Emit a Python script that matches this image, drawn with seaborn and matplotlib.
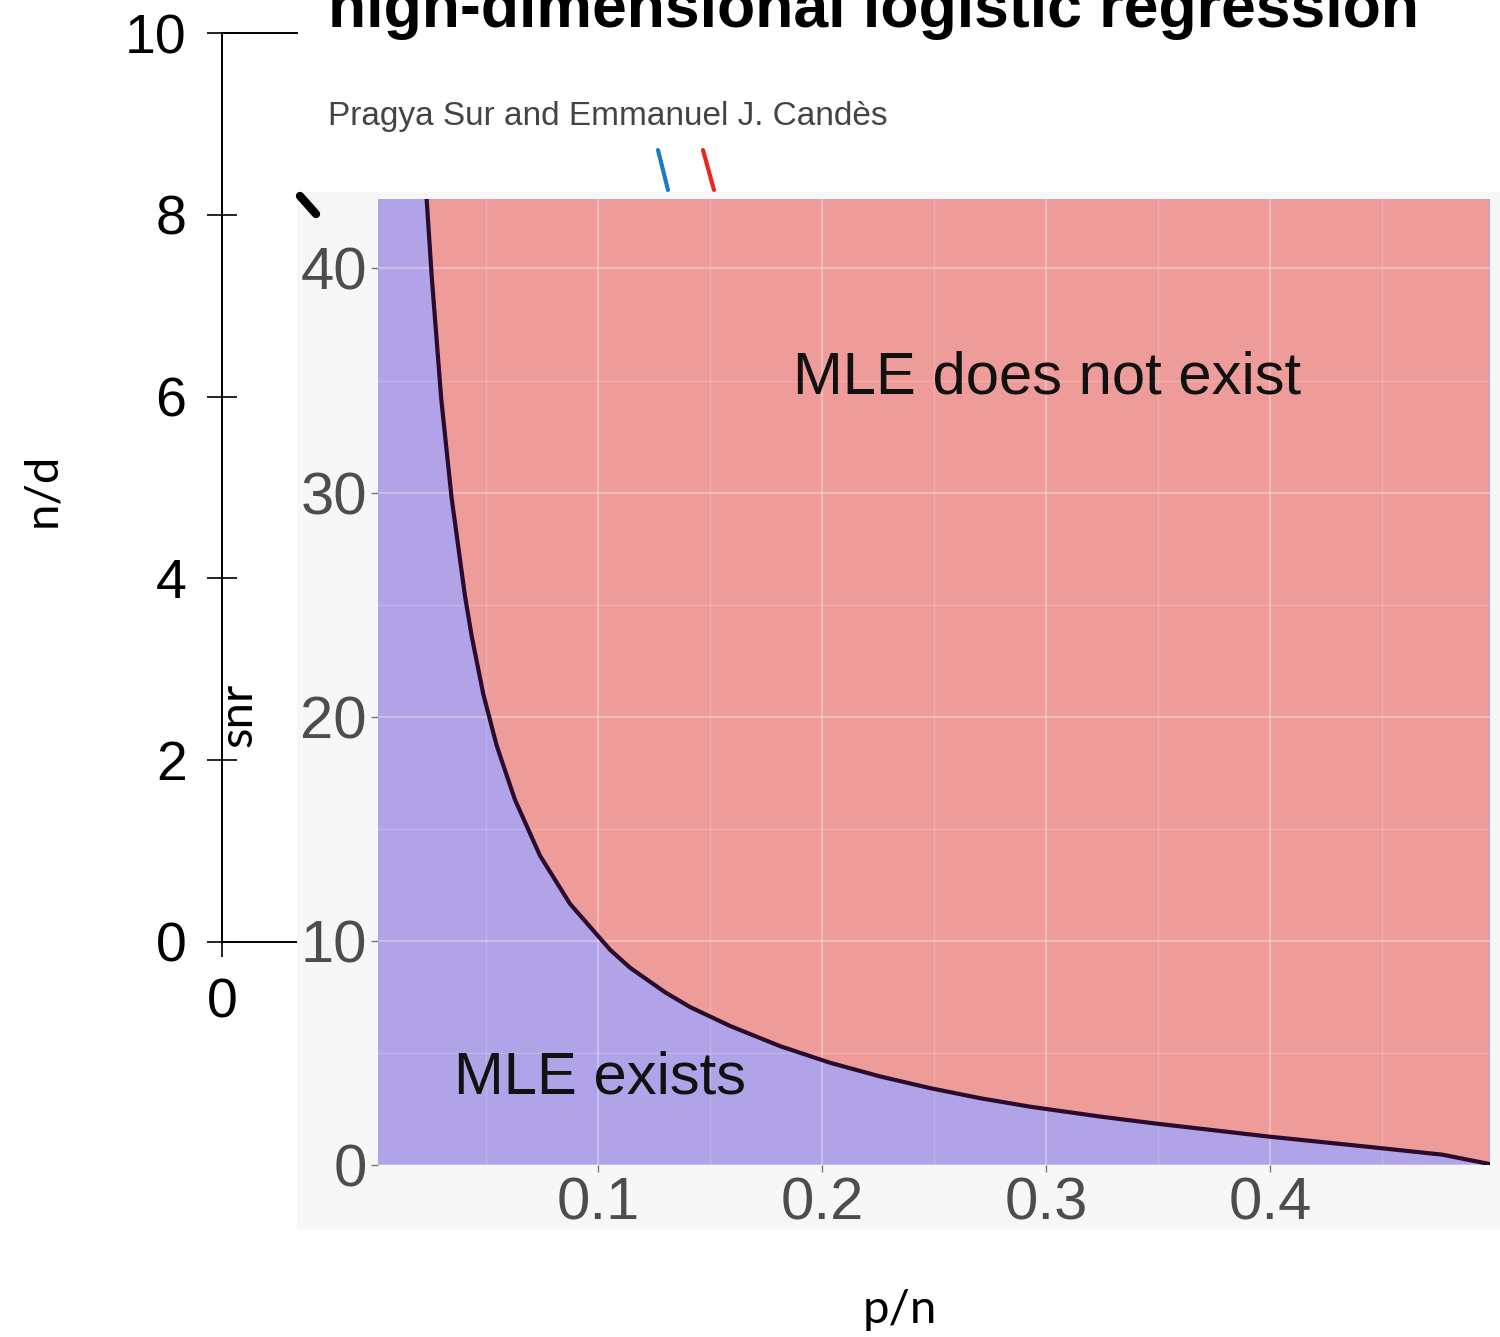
import numpy as np
import pandas as pd
import matplotlib.pyplot as plt
import matplotlib.lines as mlines
import matplotlib.patches as mpatches
import seaborn as sns

# phase transition boundary
p_over_n = [0.0235, 0.0258, 0.030, 0.0346, 0.0406, 0.0436, 0.0488, 0.0548,
            0.0629, 0.0741, 0.0875, 0.1054, 0.1143, 0.130, 0.141, 0.159,
            0.1813, 0.2036, 0.2259, 0.2482, 0.2705, 0.2929, 0.3241, 0.3488,
            0.400, 0.4448, 0.4768, 0.4975]
snr_boundary = [43.1, 39.6, 34.2, 29.8, 25.4, 23.6, 21.0, 18.7,
                16.3, 13.8, 11.65, 9.6, 8.8, 7.7, 7.05, 6.2,
                5.3, 4.56, 3.95, 3.43, 2.98, 2.6, 2.16, 1.85,
                1.26, 0.80, 0.46, 0.05]

outer_yticks = [0, 2, 4, 6, 8, 10]
outer_xticks = [0]
inset_xticks = [0.1, 0.2, 0.3, 0.4]
inset_xminor = [0.05, 0.15, 0.25, 0.35, 0.45]
inset_yticks = [0, 10, 20, 30, 40]
inset_yminor = [5, 15, 25, 35]

title = "high-dimensional logistic regression"
authors = "Pragya Sur and Emmanuel J. Candès"
label_above = "MLE does not exist"
label_below = "MLE exists"

df = pd.DataFrame({"p/n": p_over_n, "snr": snr_boundary})

sns.set_theme(style="white")
plt.rcParams['font.family'] = ['Liberation Sans', 'DejaVu Sans']

W, H = 1500, 1337
fig = plt.figure(figsize=(15, 13.37), dpi=100)
fig.patch.set_facecolor('white')


def fx(px):
    return px / W


def fy(py):
    return 1 - py / H


# outer (background) axes
ax0 = fig.add_axes([fx(222), fy(942), fx(297) - fx(222), fy(33) - fy(942)])
ax0.set_xlim(0, 1)
ax0.set_ylim(0, 10)
ax0.set_yticks(outer_yticks)
ax0.set_xticks(outer_xticks)
for s in ['left', 'top', 'bottom']:
    ax0.spines[s].set_visible(True)
    ax0.spines[s].set_color('black')
    ax0.spines[s].set_linewidth(1.4)
ax0.spines['right'].set_visible(False)
ax0.tick_params(axis='both', direction='inout', length=21, width=1.2,
                color='black', labelcolor='black', labelsize=38, pad=15,
                left=True, bottom=True)
for lab in ax0.get_yticklabels() + ax0.get_xticklabels():
    lab.set_family(['Liberation Sans Narrow', 'Liberation Sans'])
    lab.set_fontsize(40)

# pasted panel background
fig.patches.append(mpatches.Rectangle((fx(297), fy(1230)), fx(1500) - fx(297),
                                      fy(192) - fy(1230), transform=fig.transFigure,
                                      facecolor='#f7f7f7', edgecolor='none', zorder=1))

# small fragments of the pasted figure
for (x1, y1, x2, y2, c, w) in [(658, 150, 668, 190, '#1a7bbf', 3),
                               (703, 150, 714, 190, '#e8281e', 3),
                               (300, 196, 316, 214, 'black', 6)]:
    fig.add_artist(mlines.Line2D([fx(x1), fx(x2)], [fy(y1), fy(y2)],
                                 transform=fig.transFigure, color=c, lw=w, zorder=3))

# inset phase diagram
lavender = '#b1a3e8'
pink = '#ee9c9a'
ymax = 43.1
ax = fig.add_axes([fx(378), fy(1165), fx(1490) - fx(378), fy(199) - fy(1165)], zorder=2)
ax.set_facecolor(lavender)
ax.fill_between(df["p/n"], df["snr"], ymax, color=pink, lw=0, zorder=1)
sns.lineplot(data=df, x="p/n", y="snr", ax=ax, color='#2a0b2b', lw=3,
             sort=False, estimator=None, zorder=3)
ax.set_xlim(0.0018, 0.498)
ax.set_ylim(0, ymax)
ax.set_xticks(inset_xticks)
ax.set_xticklabels([str(v) for v in inset_xticks])
ax.set_yticks(inset_yticks)
ax.set_xticks(inset_xminor, minor=True)
ax.set_yticks(inset_yminor, minor=True)
ax.grid(True, which='major', color='white', alpha=0.3, lw=1.6, zorder=2)
ax.grid(True, which='minor', color='white', alpha=0.18, lw=1.0, zorder=2)
ax.set_axisbelow(False)
for s in ax.spines.values():
    s.set_visible(False)
ax.tick_params(axis='both', which='major', direction='out', length=5, width=1,
               color='#777777', labelcolor='#4d4d4d', labelsize=43, pad=3,
               left=True, bottom=True)
ax.tick_params(axis='both', which='minor', length=0)
ax.set_xlabel('')
ax.set_ylabel('')

ax.text(0.3004, 35.1, label_above, ha='center', va='center', fontsize=43,
        color='#111111', zorder=4)
ax.text(0.1009, 3.9, label_below, ha='center', va='center', fontsize=43,
        color='#111111', zorder=4)

# texts
fig.text(fx(328), fy(27), title, ha='left', va='baseline', fontsize=45,
         fontweight='bold', color='black', zorder=5)
fig.text(fx(328), fy(125), authors, ha='left', va='baseline', fontsize=24,
         color='#444444', zorder=5)

gfont = ['Lato', 'DejaVu Sans']
fig.text(fx(42), fy(490), 'n/d', rotation=90, ha='center', va='center',
         fontsize=34, family=gfont, color='black', zorder=5)
fig.text(fx(900), fy(1310), 'p/n', ha='center', va='center',
         fontsize=34, family=gfont, color='black', zorder=5)
fig.text(fx(238), fy(715), 'snr', rotation=90, ha='center', va='center',
         fontsize=34, family=gfont, color='black', zorder=5)

fig.savefig('out.png', dpi=100, facecolor='white')
